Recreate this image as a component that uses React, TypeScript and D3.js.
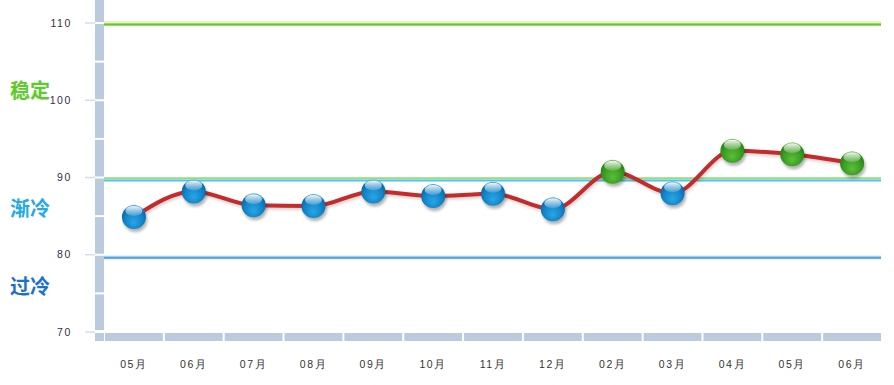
import React from "react";
import * as d3 from "d3";

const categories = ["05月", "06月", "07月", "08月", "09月", "10月", "11月", "12月", "02月", "03月", "04月", "05月", "06月"];
const values = [84.9, 88.2, 86.4, 86.3, 88.2, 87.6, 87.9, 85.9, 90.75, 87.95, 93.45, 93.0, 91.85];
const yTicks = [70, 80, 90, 100, 110];
const zones = [
  { label: "稳定", value: 101.2, color: "#5ccc2c" },
  { label: "渐冷", value: 86.0, color: "#27a9e3" },
  { label: "过冷", value: 75.8, color: "#1b72c6" },
];
const stableThreshold = 90;

const W = 894;
const H = 385;
const left = 104;
const right = 882;

export default function App() {
  const x = d3.scaleBand<string>().domain(categories.map((_, i) => String(i))).range([left, right]).paddingInner(0).paddingOuter(0);
  const y = d3.scaleLinear().domain([70, 110]).range([332, 23]);
  const cx = (i: number) => (x(String(i)) as number) + x.bandwidth() / 2;

  const line = d3
    .line<number>()
    .x((_, i) => cx(i))
    .y((d) => y(d))
    .curve(d3.curveMonotoneX);

  const segs: number[] = d3.range(70, 115, 5);

  return (
    <div>
      <style>{`body{margin:0}`}</style>
      <svg width={W} height={H} style={{ display: "block", background: "#fff" }} fontFamily="'Liberation Sans', Arial, sans-serif">
        <defs>
          <radialGradient id="blueBall" cx="50%" cy="60%" r="60%" fx="50%" fy="75%">
            <stop offset="0%" stopColor="#2aa6e6" />
            <stop offset="60%" stopColor="#1186c8" />
            <stop offset="90%" stopColor="#0a6aab" />
            <stop offset="100%" stopColor="#55c2f0" />
          </radialGradient>
          <radialGradient id="greenBall" cx="50%" cy="60%" r="60%" fx="50%" fy="75%">
            <stop offset="0%" stopColor="#5cbf3a" />
            <stop offset="60%" stopColor="#3a9e22" />
            <stop offset="90%" stopColor="#2a8516" />
            <stop offset="100%" stopColor="#8fdc6a" />
          </radialGradient>
          <linearGradient id="hl" x1="0" y1="0" x2="0" y2="1">
            <stop offset="0%" stopColor="#fff" stopOpacity="0.95" />
            <stop offset="100%" stopColor="#fff" stopOpacity="0.15" />
          </linearGradient>
          <filter id="shadow" x="-50%" y="-50%" width="200%" height="200%">
            <feGaussianBlur stdDeviation="1.6" />
          </filter>
        </defs>

        {/* y axis bar segments */}
        {segs.map((v) => {
          const top = v === 110 ? -20 : y(v + 5) + 1;
          const bot = y(v) - (v === 70 ? 2 : 1);
          return <rect key={"ys" + v} x={95} y={top} width={9} height={bot - top} fill="#bacbdd" />;
        })}
        {/* y ticks */}
        {yTicks.map((t) => (
          <g key={"yt" + t}>
            <line x1={85} x2={95} y1={y(t)} y2={y(t)} stroke="#d3deea" strokeWidth={1.5} />
            <text x={72} y={y(t)} dy="0.35em" textAnchor="end" fontSize={10.5} fill="#3a2a4a" letterSpacing={1.6}>
              {t}
            </text>
          </g>
        ))}
        {/* corner block */}
        <rect x={95} y={333} width={9} height={8} fill="#bacbdd" />
        {/* x axis bar segments */}
        {categories.map((c, i) => (
          <rect key={"xs" + i} x={(x(String(i)) as number) + 1} y={333} width={x.bandwidth() - 2} height={8} fill="#bacbdd" />
        ))}
        {/* x labels */}
        {categories.map((c, i) => (
          <text key={"xl" + i} x={cx(i)} y={364} dy="0.35em" textAnchor="middle" fontSize={10.5} fill="#333" letterSpacing={1.6}>
            {c}
          </text>
        ))}

        {/* reference lines */}
        <line x1={left} x2={881} y1={22} y2={22} stroke="#f6e79a" strokeWidth={1.5} />
        <line x1={left} x2={881} y1={24.5} y2={24.5} stroke="#8fdc6a" strokeWidth={3} />
        <line x1={left} x2={881} y1={24.5} y2={24.5} stroke="#5cc83a" strokeWidth={1.2} />

        <line x1={left} x2={881} y1={178.3} y2={178.3} stroke="#96dd72" strokeWidth={2} />
        <line x1={left} x2={881} y1={180.5} y2={180.5} stroke="#4ec3f0" strokeWidth={2.2} />

        <line x1={left} x2={881} y1={257.5} y2={257.5} stroke="#9fcff2" strokeWidth={3.5} />
        <line x1={left} x2={881} y1={257.8} y2={257.8} stroke="#3f8fd8" strokeWidth={1.3} />

        {/* zone labels */}
        {zones.map((z) => (
          <text key={z.label} x={10} y={y(z.value)} dy="0.36em" fontSize={20} fontWeight="bold" fill={z.color} fontFamily="'Noto Sans CJK SC', sans-serif">
            {z.label}
          </text>
        ))}

        {/* line */}
        <path d={line(values) as string} fill="none" stroke="#000" strokeOpacity={0.18} strokeWidth={4} transform="translate(1,2)" filter="url(#shadow)" />
        <path d={line(values) as string} fill="none" stroke="#c62a2a" strokeWidth={4} strokeLinejoin="round" />

        {/* markers */}
        {values.map((v, i) => {
          const px = cx(i);
          const py = y(v);
          const green = v > stableThreshold;
          return (
            <g key={"m" + i}>
              <circle cx={px + 1.5} cy={py + 3} r={12} fill="#000" opacity={0.3} filter="url(#shadow)" />
              <circle cx={px} cy={py} r={12} fill={green ? "url(#greenBall)" : "url(#blueBall)"} />
              <ellipse cx={px} cy={py - 6} rx={8.5} ry={5} fill="url(#hl)" />
            </g>
          );
        })}
      </svg>
    </div>
  );
}
